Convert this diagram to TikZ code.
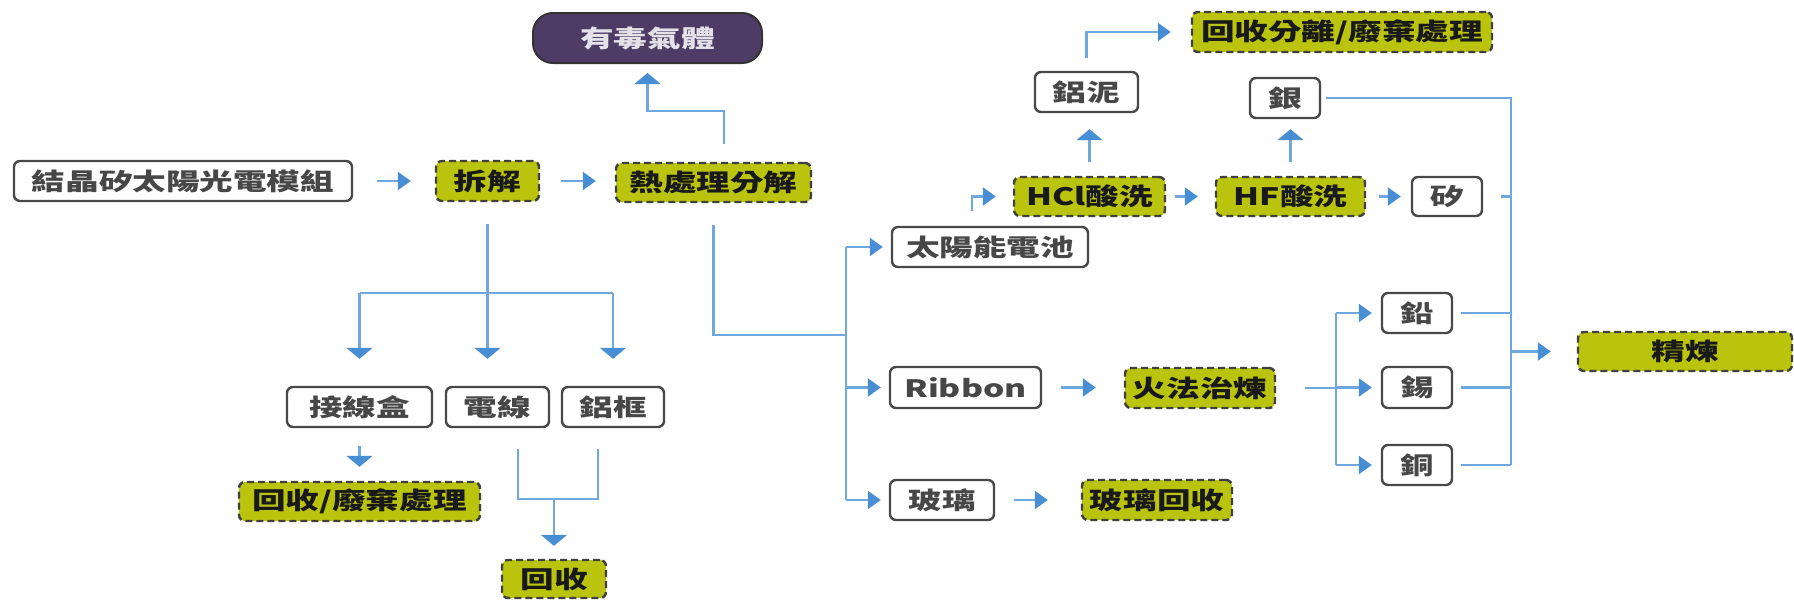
\documentclass[tikz,border=0pt]{standalone}
\usepackage{fontspec}
\usetikzlibrary{arrows.meta}
\newfontfamily\cjkfont{Noto Sans CJK TC}[FakeStretch=1.4]
\definecolor{flowblue}{RGB}{110,168,222}
\definecolor{tipblue}{RGB}{72,142,212}
\definecolor{stepfill}{RGB}{186,196,12}
\definecolor{gasfill}{RGB}{78,60,102}
\definecolor{boxline}{RGB}{72,72,72}

\begin{document}
\begin{tikzpicture}[x=1pt, y=-1pt,
	every node/.style={font=\cjkfont\bfseries\fontsize{24}{24}\selectfont, inner sep=0pt, minimum height=40pt},
	item/.style={draw=boxline, line width=2.4pt, rounded corners=6pt, fill=white, text=black!72},
	proc/.style={draw=black!75, line width=2.4pt, dash pattern=on 7pt off 4pt, rounded corners=6pt, fill=stepfill, text=black!90},
	gasbox/.style={draw=black!80, line width=2pt, rounded corners=20pt, fill=gasfill, text=white!85!gasfill, minimum height=50pt},
	link/.style={draw=flowblue, line width=2.2pt},
	hflow/.style={link, -{Triangle[length=13pt, width=18pt, color=tipblue]}},
	vflow/.style={link, -{Triangle[length=11pt, width=26pt, color=tipblue]}}]
				\fill[white, use as bounding box] (0,0) rectangle (1794,600);
				\node[item, minimum width=338pt] (module) at (183,181) {結晶矽太陽光電模組};
				\node[proc, minimum width=103pt] (disasm) at (487.5,181) {拆解};
				\node[proc, minimum width=195pt, minimum height=39pt] (heat) at (713.5,182.5) {熱處理分解};
				\node[gasbox, minimum width=229pt] (gas) at (647.5,38) {有毒氣體};
				\node[item, minimum width=145pt] (jbox) at (359.5,407) {接線盒};
				\node[item, minimum width=103pt] (cable) at (497.5,407) {電線};
				\node[item, minimum width=102pt] (frame) at (613,407) {鋁框};
				\node[proc, minimum width=241pt, minimum height=39pt] (jboxout) at (359.5,501.5) {回收/廢棄處理};
				\node[proc, minimum width=104pt, minimum height=38pt] (reuse) at (554,579) {回收};
				\node[item, minimum width=196pt] (cell) at (990,247) {太陽能電池};
				\node[item, minimum width=151pt, minimum height=41pt] (ribbon) at (965.5,387.5) {Ribbon};
				\node[item, minimum width=104pt] (glass) at (942,500) {玻璃};
				\node[proc, minimum width=150pt] (smelt) at (1200,388) {火法治煉};
				\node[proc, minimum width=150pt] (glassout) at (1157,500) {玻璃回收};
				\node[proc, minimum width=151pt, minimum height=39pt] (hcl) at (1089.5,196.5) {HCl酸洗};
				\node[proc, minimum width=149pt, minimum height=39pt] (hf) at (1290.5,196.5) {HF酸洗};
				\node[item, minimum width=70pt, minimum height=39pt] (si) at (1447,196.5) {矽};
				\node[item, minimum width=103pt] (sludge) at (1086.5,92) {鋁泥};
				\node[item, minimum width=70pt] (ag) at (1285,98) {銀};
				\node[proc, minimum width=300pt] (sludgeout) at (1342,32) {回收分離/廢棄處理};
				\node[item, minimum width=70pt] (pb) at (1417,313) {鉛};
				\node[item, minimum width=70pt, minimum height=41pt] (sn) at (1417,387.5) {錫};
				\node[item, minimum width=70pt] (cu) at (1417,465) {銅};
				\node[proc, minimum width=214pt, minimum height=39pt] (refine) at (1685,351.5) {精煉};
				\draw[hflow, shorten <=24pt, shorten >=24pt] (module.east) -- (disasm.west);
				\draw[hflow, shorten <=21pt, shorten >=19pt] (disasm.east) -- (disasm.east -| heat.west);
				\draw[vflow, shorten >=9pt] ([xshift=10.5pt, yshift=18pt]heat.north) |- ([yshift=-47pt]gas.south) -- (gas.south);
				\coordinate (fork) at (487.5,293);
				\draw[vflow, shorten >=27pt] ([yshift=-22pt]disasm.south) -- (disasm.south |- cable.north);
				\draw[link] (fork -| jbox) -- (fork -| frame);
				\foreach \n in {jbox,frame}
					\draw[vflow, shorten >=27pt] (fork -| \n) -- (\n.north);
				\draw[vflow, shorten <=18pt, shorten >=14pt] (jbox.south) -- (jboxout.north);
				\coordinate (merge) at (554,499);
				\draw[link] ([xshift=20.5pt, yshift=-21pt]cable.south) |- (merge) -| ([xshift=-15pt, yshift=-21pt]frame.south);
				\draw[vflow, shorten >=13pt] (merge) -- (reuse.north);
				\coordinate (bus) at (846,335);
				\draw[link] ([yshift=-22pt]heat.south) |- (bus);
				\draw[link] (bus |- cell) -- (bus |- glass);
				\foreach \n in {cell,ribbon,glass}
					\draw[hflow, shorten >=8pt] (bus |- \n) -- (\n.west);
				\draw[hflow, shorten >=17pt] ([xshift=-18pt, yshift=15pt]cell.north) |- (hcl.west);
				\draw[vflow, shorten <=14pt, shorten >=16pt] (hcl.north) -- (hcl.north |- sludge.south);
				\draw[hflow, shorten >=20pt] ([yshift=13pt]sludge.north) |- (sludgeout.west);
				\draw[hflow, shorten <=9pt, shorten >=17pt] (hcl.east) -- (hf.west);
				\draw[vflow, shorten <=14pt, shorten >=10pt] (hf.north) -- (hf.north |- ag.south);
				\draw[hflow, shorten <=13pt, shorten >=10pt] (hf.east) -- (si.west);
				\draw[hflow, shorten <=19pt, shorten >=28pt] (ribbon.east) -- (ribbon.east -| smelt.west);
				\draw[hflow, shorten <=19pt, shorten >=33pt] (glass.east) -- (glassout.west);
				\coordinate (split) at (1336,387.5);
				\draw[link] ([xshift=29pt]smelt.east) -- (split |- smelt);
				\draw[link] (split |- pb) -- (split |- cu);
				\foreach \n in {pb,sn,cu}
					\draw[hflow, shorten >=9pt] (split |- \n) -- (\n.west);
				\coordinate (join) at (1511,351.5);
				\draw[link] ([xshift=5pt]ag.east) -| (join |- cu);
				\foreach \n in {pb,sn,cu}
					\draw[link, shorten <=8pt] (\n.east) -- (join |- \n);
				\draw[link] ([xshift=18pt]si.east) -- (join |- si);
				\draw[hflow, shorten >=26pt] (join) -- (refine.west);
			\end{tikzpicture}
\end{document}
